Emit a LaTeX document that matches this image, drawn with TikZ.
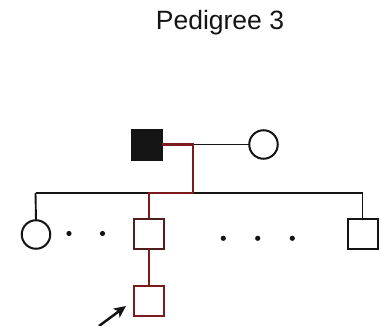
\documentclass[tikz,border=0pt]{standalone}
\usepackage{fontspec}
\setmainfont{Liberation Sans}
\usetikzlibrary{arrows.meta}
\definecolor{ink}{RGB}{20,20,20}
\definecolor{lineage}{RGB}{125,26,30}
\definecolor{carrier}{RGB}{80,30,30}
\begin{document}
\begin{tikzpicture}[x=1pt,y=-1pt,
  person/.style={draw=ink,line width=2pt,fill=white,inner sep=0pt,outer sep=0pt},
  male/.style={person,rectangle,minimum size=30pt},
  female/.style={person,circle,minimum size=28.5pt},
  kin/.style={draw=ink,line width=1.9pt},
  line/.style={draw=lineage,line width=2.3pt},
  dot/.style={circle,fill=ink,inner sep=0pt,minimum size=5.2pt}]
\useasboundingbox (0,0) rectangle (381,326);

% title
\node[anchor=base,text=ink,font=\fontsize{26.5}{30}\selectfont] (title) at (220,29.3) {Pedigree 3};

% parents
\node[male,fill=ink] (father) at (147,145) {};
\node[female] (mother) at (263.5,144.5) {};
\coordinate (mate) at (193,144.5);
\coordinate (sib) at (193,193);

% sibship line and drops
\coordinate (sibL) at (35.5,193);
\coordinate (sibR) at (362.5,193);
\coordinate (sibM) at (149,193);
\node[female] (sister) at (36,234.5) {};
\node[male] (brother) at (149,233.7) {};
\node[male] (last) at (362.5,234.3) {};
\path[kin] (sibL) -- (sibR);
\path[kin] (sibL) -- (sister.north);
\path[kin] (sibR) -- (last.north);
\path[kin] (mate) -- (mother.west);

% line of descent
\path[line] (father.east |- mate) -- (mate) -- (sib) -- (sibM) -- (brother.north);
\node[male,draw=carrier,line width=2.2pt] at (brother) {};

% proband
\node[male,draw=lineage,line width=2.3pt] (proband) at (149,301.3) {};
\path[line] (brother.south) -- (proband.north);

% omitted siblings
\node[dot] (d1) at (69,233.5) {};
\node[dot] (d2) at (102.5,233.5) {};
\node[dot] (d3) at (223.3,238.3) {};
\node[dot] (d4) at (257.7,238.3) {};
\node[dot] (d5) at (292.3,238.3) {};

% proband arrow
\coordinate (tail) at (99,326);
\draw[ink,line width=2.5pt,-{Stealth[length=12pt,width=11pt,inset=3pt]}] (tail) -- (126,306);
\end{tikzpicture}
\end{document}
